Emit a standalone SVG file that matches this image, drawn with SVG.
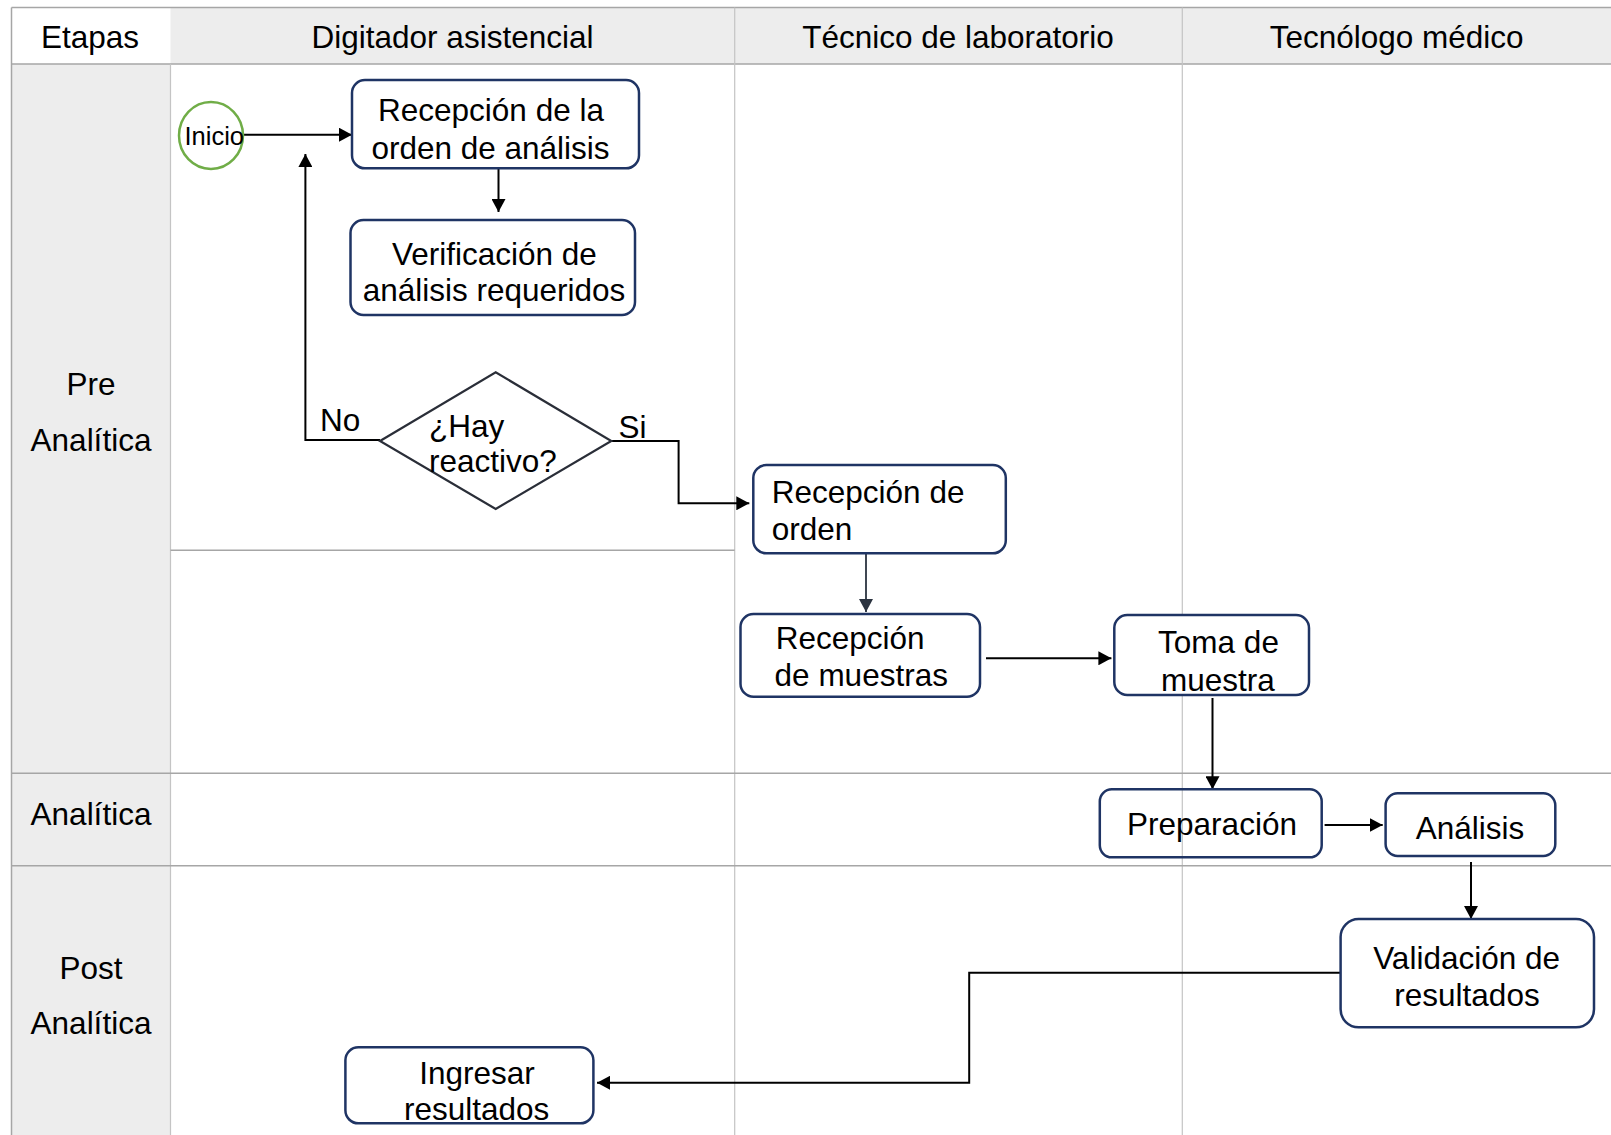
<svg xmlns="http://www.w3.org/2000/svg" width="1611" height="1135" viewBox="0 0 1611 1135">
<style>
text{font-family:"Liberation Sans",Arial,sans-serif;font-size:31.5px;fill:#000}
.c{text-anchor:middle}
.grid{stroke:#A6A6A6;stroke-width:1.5;fill:none}
.col{stroke:#C4C4C4;stroke-width:1.2;fill:none}
.box{fill:#fff;stroke:#1F3464;stroke-width:2.5}
.conn{stroke:#000;stroke-width:2;fill:none}
</style>
<defs>
<marker id="ah" markerUnits="userSpaceOnUse" markerWidth="14" markerHeight="14" refX="13" refY="7" orient="auto">
<path d="M0,0 L13,7 L0,14 z" fill="#000"/>
</marker>
<marker id="ah2" markerUnits="userSpaceOnUse" markerWidth="14" markerHeight="14" refX="13" refY="7" orient="auto">
<path d="M0,0 L13,7 L0,14 z" fill="#2B3340"/>
</marker>
</defs>
<g id="grid">
<rect x="0" y="0" width="1611" height="1135" fill="#fff"/>
<rect x="170.5" y="7.5" width="1440.5" height="56.5" fill="#EDEDED"/>
<rect x="11.5" y="64" width="159" height="1071" fill="#EDEDED"/>
<line class="grid" x1="11.5" y1="7.5" x2="1611" y2="7.5"/>
<line class="grid" x1="11.5" y1="7.5" x2="11.5" y2="1135"/>
<line class="grid" x1="11.5" y1="64" x2="1611" y2="64"/>
<line class="col" x1="170.5" y1="64" x2="170.5" y2="1135"/>
<line class="col" x1="734.7" y1="7.5" x2="734.7" y2="1135"/>
<line class="col" x1="1182.3" y1="7.5" x2="1182.3" y2="1135"/>
<line class="grid" x1="11.5" y1="773.3" x2="1611" y2="773.3"/>
<line class="grid" x1="11.5" y1="865.7" x2="1611" y2="865.7"/>
<line class="grid" x1="170.5" y1="550.3" x2="734.7" y2="550.3"/>
<text class="c" x="90" y="47.5">Etapas</text>
<text class="c" x="452.5" y="47.5">Digitador asistencial</text>
<text class="c" x="958" y="47.5">Técnico de laboratorio</text>
<text class="c" x="1396.6" y="47.5">Tecnólogo médico</text>
<text class="c" x="91" y="395">Pre</text>
<text class="c" x="91" y="451">Analítica</text>
<text class="c" x="91" y="824.5">Analítica</text>
<text class="c" x="91" y="978.7">Post</text>
<text class="c" x="91" y="1034.3">Analítica</text>
</g>
<g id="connectors">
<line class="conn" x1="244" y1="134.7" x2="352" y2="134.7" marker-end="url(#ah)"/>
<line class="conn" x1="498.5" y1="168.5" x2="498.5" y2="212" marker-end="url(#ah)"/>
<polyline class="conn" points="380,440 305.4,440 305.4,154" marker-end="url(#ah)"/>
<polyline class="conn" points="611.3,441 678.6,441 678.6,503.3 749.3,503.3" marker-end="url(#ah)"/>
<line x1="866" y1="553.3" x2="866" y2="612" stroke="#2B3340" stroke-width="1.8" marker-end="url(#ah2)"/>
<line class="conn" x1="986" y1="658.3" x2="1111.4" y2="658.3" marker-end="url(#ah)"/>
<line class="conn" x1="1212.5" y1="698" x2="1212.5" y2="789.3" marker-end="url(#ah)"/>
<line class="conn" x1="1324.6" y1="825" x2="1382.7" y2="825" marker-end="url(#ah)"/>
<line class="conn" x1="1471" y1="862" x2="1471" y2="919" marker-end="url(#ah)"/>
<polyline class="conn" points="1340.6,972.7 969.2,972.7 969.2,1082.8 597,1082.8" marker-end="url(#ah)"/>
</g>
<g id="inicio">
<ellipse cx="211" cy="135.5" rx="32" ry="33.5" fill="#fff" stroke="#70AD47" stroke-width="2.5"/>
<text x="184.5" y="145" style="font-size:25.5px">Inicio</text>
</g>
<g id="recepcion-orden-analisis">
<rect class="box" x="352" y="80" width="287" height="88.3" rx="13" stroke="#2A2E38"/>
<text class="c" x="491" y="121">Recepción de la</text>
<text class="c" x="490.5" y="158.5">orden de análisis</text>
</g>
<g id="verificacion">
<rect class="box" x="350.5" y="220" width="284.5" height="95" rx="13"/>
<text class="c" x="494.4" y="265">Verificación de</text>
<text class="c" x="494" y="301">análisis requeridos</text>
</g>
<g id="hay-reactivo">
<polygon points="380,441 495.7,372.3 611.3,441 495.7,509" fill="#fff" stroke="#2A2E38" stroke-width="2.2"/>
<text x="429" y="437">¿Hay</text>
<text x="429" y="472">reactivo?</text>
</g>
<g id="labels">
<text x="320" y="431">No</text>
<text x="618.6" y="437.5">Si</text>
</g>
<g id="recepcion-orden">
<rect class="box" x="753.3" y="465" width="252.5" height="88.3" rx="13"/>
<text x="771.8" y="503">Recepción de</text>
<text x="771.8" y="540">orden</text>
</g>
<g id="recepcion-muestras">
<rect class="box" x="740.5" y="614" width="239.5" height="82.7" rx="13"/>
<text x="775.7" y="648.5">Recepción</text>
<text x="774.6" y="686">de muestras</text>
</g>
<g id="toma-muestra">
<rect class="box" x="1114.3" y="615" width="194.7" height="80" rx="13"/>
<text class="c" x="1218.5" y="653">Toma de</text>
<text class="c" x="1218" y="690.5">muestra</text>
</g>
<g id="preparacion">
<rect class="box" x="1099.8" y="789.3" width="221.9" height="68" rx="12" style="fill:none"/>
<text class="c" x="1212" y="835.3">Preparación</text>
</g>
<g id="analisis">
<rect class="box" x="1385.6" y="793.3" width="169.7" height="62.7" rx="12"/>
<text class="c" x="1470" y="838.7">Análisis</text>
</g>
<g id="validacion">
<rect class="box" x="1340.6" y="919" width="253.4" height="108.3" rx="18"/>
<text class="c" x="1466.6" y="968.7">Validación de</text>
<text class="c" x="1467" y="1006">resultados</text>
</g>
<g id="ingresar">
<rect class="box" x="345.4" y="1047.3" width="248" height="76" rx="13"/>
<text class="c" x="477" y="1083.7">Ingresar</text>
<text class="c" x="476.7" y="1120">resultados</text>
</g>
</svg>
